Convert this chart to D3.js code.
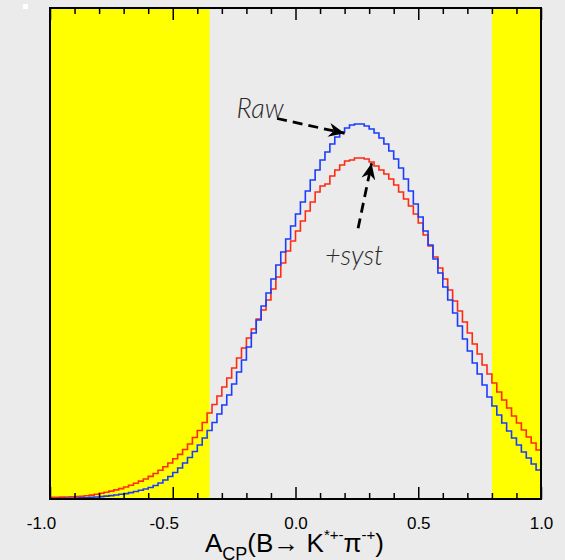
<!DOCTYPE html>
<html>
<head>
<meta charset="utf-8">
<script src="https://cdn.jsdelivr.net/npm/d3@7"></script>
<style>
  body { margin: 0; background: #ebebeb; }
  svg { display: block; }
</style>
</head>
<body>
<div id="chart"></div>
<script>
// Histogram: 100 bins of width 0.02 from -1 to 1 (arbitrary units)
const binLow = -1.0, binWidth = 0.02;

// Raw A_CP likelihood (blue)
const rawCounts = [
  0.3, 0.4, 0.5, 0.6, 0.7, 0.9, 1.1, 1.3, 1.6, 2.0,
  2.4, 2.9, 3.4, 4.0, 4.7, 5.4, 6.4, 7.5, 8.7, 10.0,
  11.5, 13.5, 16.0, 19.0, 22.5, 26.5, 31.0, 36.0, 41.5, 47.5,
  54.0, 61.0, 68.5, 76.5, 85, 94, 104, 115, 127, 139,
  152, 166, 179, 193, 206, 220, 234, 247, 260, 273,
  285, 297, 308, 319, 329, 339, 347, 355, 362, 367,
  371, 374, 375, 375, 373, 370, 366, 361, 355, 348,
  340, 331, 320, 308, 295, 282, 268, 254, 240, 226,
  212, 199, 186, 173, 160, 148, 136, 125, 114, 102,
  93, 84, 76, 68, 61, 54, 47, 41, 35, 29
];

// With systematics (red)
const systCounts = [
  1.7, 1.8, 1.9, 2.0, 2.2, 2.4, 2.8, 3.3, 3.9, 4.8,
  5.8, 6.8, 7.9, 9.1, 10.4, 12.0, 13.8, 15.8, 17.9, 20.0,
  22.6, 25.5, 28.8, 32.3, 36.0, 40.2, 44.6, 49.5, 55.0, 61.5,
  68.5, 76.5, 86, 94.5, 103, 112, 121, 131, 141, 151,
  161, 170, 180, 189, 199, 210, 222, 236, 248, 258,
  268, 278, 288, 297, 307, 313, 315, 323, 329, 334,
  338, 339, 341, 341, 340, 337, 333, 329, 325, 320,
  314, 307, 300, 293, 285, 276, 264, 253, 242, 231,
  220, 209, 198, 188, 177, 166, 155, 145, 134, 125,
  116, 107, 99, 91, 83, 76, 69, 62, 56, 49
];

// Excluded regions (yellow)
const bands = [[-1.0, -0.35], [0.8, 1.0]];

const majorTicks = [-1.0, -0.5, 0.0, 0.5, 1.0];
const minorTicks = [-0.9, -0.8, -0.7, -0.6, -0.4, -0.3, -0.2, -0.1,
                    0.1, 0.2, 0.3, 0.4, 0.6, 0.7, 0.8, 0.9];

// Annotations in data units
const rawNote = {text: "Raw", x: -0.24, y: 380.7, from: [-0.075, 380.5], to: [0.20, 365.7]};
const systNote = {text: "+syst", x: 0.12, y: 234, from: [0.255, 270.7], to: [0.310, 335.7]};

// Dimensions
const margin = {top: 8, right: 24, bottom: 61, left: 50},
    width = 565 - margin.left - margin.right,
    height = 560 - margin.top - margin.bottom;

const svgRoot = d3.select("#chart")
    .append("svg")
        .attr("width", 565)
        .attr("height", 560);

svgRoot.append("rect")
    .attr("width", 565).attr("height", 560)
    .attr("fill", "#ebebeb");

// little white marker in the corner
svgRoot.append("rect")
    .attr("x", 23).attr("y", 4)
    .attr("width", 5).attr("height", 5)
    .attr("fill", "#ffffff");

const svg = svgRoot.append("g")
    .attr("transform", "translate(" + margin.left + "," + margin.top + ")");

const x = d3.scaleLinear().domain([-1, 1]).range([0, width]);
const y = d3.scaleLinear().domain([0, 491]).range([height, 0]);

// yellow bands
svg.selectAll(".band")
    .data(bands)
    .enter().append("rect")
        .attr("class", "band")
        .attr("x", d => x(d[0]))
        .attr("y", 0)
        .attr("width", d => x(d[1]) - x(d[0]))
        .attr("height", height)
        .attr("fill", "#ffff00");

// step line from bin edges
function histPoints(counts) {
    const pts = counts.map((v, i) => [binLow + i * binWidth, v]);
    pts.push([binLow + counts.length * binWidth, counts[counts.length - 1]]);
    return pts;
}

const line = d3.line()
    .x(d => x(d[0]))
    .y(d => y(d[1]))
    .curve(d3.curveStepAfter);

svg.append("path")
    .datum(histPoints(systCounts))
    .attr("fill", "none")
    .attr("stroke", "#ff2a12")
    .attr("stroke-width", 1.6)
    .attr("d", line);

svg.append("path")
    .datum(histPoints(rawCounts))
    .attr("fill", "none")
    .attr("stroke", "#1a3cff")
    .attr("stroke-width", 1.6)
    .attr("d", line);

// Axes: ticks point inward, bottom and top
function styleAxis(g) {
    g.select(".domain").remove();
    g.selectAll(".tick line").attr("stroke", "#000").attr("stroke-width", 1.5);
}

svg.append("g")
    .attr("transform", "translate(0," + height + ")")
    .call(d3.axisBottom(x).tickValues(minorTicks).tickSize(-6).tickFormat(""))
    .call(styleAxis);

svg.append("g")
    .attr("transform", "translate(0," + height + ")")
    .call(d3.axisBottom(x).tickValues(majorTicks).tickSize(-12).tickPadding(18)
        .tickFormat(d => d.toFixed(1)))
    .call(styleAxis)
    .call(g => g.selectAll(".tick text")
        .attr("dx", d => d < 0 ? -9 : 0)
        .style("font-family", "'Liberation Sans', Arial, sans-serif")
        .style("font-size", "17px")
        .attr("fill", "#000"));

svg.append("g")
    .call(d3.axisTop(x).tickValues(minorTicks).tickSize(-6).tickFormat(""))
    .call(styleAxis);

svg.append("g")
    .call(d3.axisTop(x).tickValues(majorTicks).tickSize(-12).tickFormat(""))
    .call(styleAxis);

// frame
svg.append("rect")
    .attr("x", 0).attr("y", 0)
    .attr("width", width).attr("height", height)
    .attr("fill", "none")
    .attr("stroke", "#000")
    .attr("stroke-width", 2);

// X axis title
const title = svg.append("text")
    .attr("x", 155)
    .attr("y", height + 53)
    .style("font-family", "'Liberation Sans', Arial, sans-serif")
    .style("font-size", "26px")
    .attr("fill", "#000");
title.append("tspan").text("A");
title.append("tspan").attr("dy", 8).style("font-size", "18px").text("CP");
title.append("tspan").attr("dy", -8).text("(B→ K");
title.append("tspan").attr("dy", -12).style("font-size", "15px").text("*+-");
title.append("tspan").attr("dy", 12).text("π");
title.append("tspan").attr("dy", -12).style("font-size", "15px").text("-+");
title.append("tspan").attr("dy", 12).text(")");

// arrow marker
svgRoot.append("defs").append("marker")
    .attr("id", "head")
    .attr("markerUnits", "userSpaceOnUse")
    .attr("viewBox", "-16 -8 18 16")
    .attr("refX", 0).attr("refY", 0)
    .attr("markerWidth", 18).attr("markerHeight", 16)
    .attr("orient", "auto")
    .append("path")
        .attr("d", "M0,0 L-16,-7 L-11,0 L-16,7 Z")
        .attr("fill", "#000");

[rawNote, systNote].forEach(function(n) {
    svg.append("line")
        .attr("x1", x(n.from[0])).attr("y1", y(n.from[1]))
        .attr("x2", x(n.to[0])).attr("y2", y(n.to[1]))
        .attr("stroke", "#000")
        .attr("stroke-width", 2.8)
        .attr("stroke-dasharray", "10,6")
        .attr("marker-end", "url(#head)");

    svg.append("text")
        .attr("x", x(n.x))
        .attr("y", y(n.y))
        .style("font-family", "Lato, 'Open Sans', sans-serif")
        .style("font-style", "italic")
        .style("font-weight", 300)
        .style("font-size", "27px")
        .attr("fill", "#2a2a2a")
        .text(n.text);
});
</script>
</body>
</html>
